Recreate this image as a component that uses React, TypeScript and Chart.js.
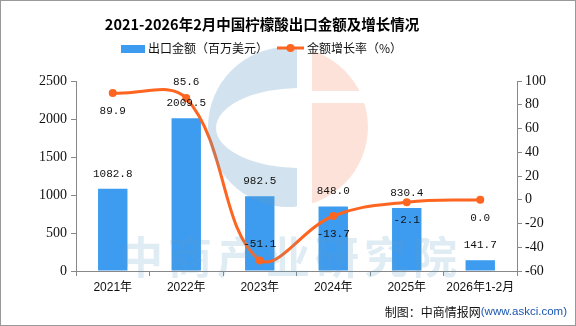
import React, { useEffect, useRef } from "react";
import { Chart, registerables } from "chart.js";

Chart.register(...registerables);

const categories = ["2021年", "2022年", "2023年", "2024年", "2025年", "2026年1-2月"];
const exportValues = [1082.8, 2009.5, 982.5, 848.0, 830.4, 141.7];
const growthRates = [89.9, 85.6, -51.1, -13.7, -2.1, 0.0];
const barLabelText = ["1082.8", "2009.5", "982.5", "848.0", "830.4", "141.7"];
const lineLabelText = ["89.9", "85.6", "-51.1", "-13.7", "-2.1", "0.0"];
const lineLabelAbove = [false, true, true, false, false, false];

const titleText = "2021-2026年2月中国柠檬酸出口金额及增长情况";
const barLegend = "出口金额（百万美元）";
const lineLegend = "金额增长率（%）";
const watermarkText = "中商产业研究院";

const BAR_COLOR = "#3d9cf0";
const LINE_COLOR = "#fe6520";
const CJK = "'Noto Sans CJK SC', sans-serif";
const MONO = "'Liberation Mono', monospace";

const decorPlugin = {
  id: "decor",
  beforeDraw(chart: any) {
    const ctx = chart.ctx;
    ctx.save();
    ctx.fillStyle = "#ffffff";
    ctx.fillRect(0, 0, chart.width, chart.height);
    ctx.restore();
  },
  afterDatasetsDraw(chart: any) {
    const ctx = chart.ctx;
    // logo watermark
    ctx.save();
    ctx.globalAlpha = 0.29;
    ctx.fillStyle = "rgb(100,160,200)";
    ctx.beginPath();
    ctx.rect(200, 40, 97, 175);
    ctx.clip();
    ctx.beginPath();
    ctx.arc(288, 127, 80, 0, Math.PI * 2);
    ctx.ellipse(300, 128, 84, 40, 0, 0, Math.PI * 2, true);
    ctx.fill("evenodd");
    ctx.restore();

    ctx.save();
    ctx.globalAlpha = 0.22;
    ctx.fillStyle = "rgb(245,125,80)";
    ctx.beginPath();
    ctx.rect(312, 40, 80, 51);
    ctx.rect(312, 103, 80, 120);
    ctx.clip();
    ctx.beginPath();
    ctx.arc(288, 127, 80, 0, Math.PI * 2);
    ctx.fill();
    ctx.restore();

    // text watermark
    ctx.save();
    ctx.globalAlpha = 0.2;
    ctx.fillStyle = "rgb(100,160,200)";
    ctx.font = `bold 44px ${CJK}`;
    ctx.textAlign = "left";
    ctx.textBaseline = "middle";
    const chars = Array.from(watermarkText);
    chars.forEach((c, i) => ctx.fillText(c, 119 + i * 49, 257));
    ctx.restore();

    // data labels
    ctx.save();
    ctx.fillStyle = "#111";
    ctx.font = `11px ${MONO}`;
    ctx.textAlign = "center";
    ctx.textBaseline = "middle";
    const barMeta = chart.getDatasetMeta(0);
    barMeta.data.forEach((el: any, i: number) => {
      ctx.fillText(barLabelText[i], el.x, el.y - 15);
    });
    const lineMeta = chart.getDatasetMeta(1);
    lineMeta.data.forEach((el: any, i: number) => {
      const dy = lineLabelAbove[i] ? -16 : 18;
      ctx.fillText(lineLabelText[i], el.x, el.y + dy);
    });
    ctx.restore();
  },
  afterDraw(chart: any) {
    const ctx = chart.ctx;
    ctx.save();
    // title
    ctx.fillStyle = "#000";
    ctx.font = `bold 14.5px ${CJK}`;
    ctx.textAlign = "center";
    ctx.textBaseline = "middle";
    ctx.fillText(titleText, 262, 24);

    // legend
    ctx.font = `12px ${CJK}`;
    ctx.textAlign = "left";
    ctx.fillStyle = BAR_COLOR;
    ctx.fillRect(121, 45, 24, 8);
    ctx.fillStyle = "#111";
    ctx.fillText(barLegend, 148, 48);
    ctx.strokeStyle = LINE_COLOR;
    ctx.lineWidth = 3;
    ctx.beginPath();
    ctx.moveTo(277, 48);
    ctx.lineTo(304, 48);
    ctx.stroke();
    ctx.fillStyle = LINE_COLOR;
    ctx.beginPath();
    ctx.arc(290.5, 48, 4, 0, Math.PI * 2);
    ctx.fill();
    ctx.fillStyle = "#111";
    ctx.fillText(lineLegend, 307, 48);

    // footer
    ctx.textAlign = "right";
    ctx.font = `11.5px 'Liberation Sans', sans-serif`;
    ctx.fillStyle = "#1a56b0";
    const url = "(www.askci.com)";
    ctx.fillText(url, 567, 312);
    const w = ctx.measureText(url).width;
    ctx.font = `12px ${CJK}`;
    ctx.fillStyle = "#111";
    ctx.fillText("制图：中商情报网", 567 - w, 312);

    // frame
    ctx.strokeStyle = "#999";
    ctx.lineWidth = 1;
    ctx.strokeRect(0.5, 0.5, chart.width - 1, chart.height - 1);
    ctx.restore();
  },
};

export default function App() {
  const ref = useRef<HTMLCanvasElement | null>(null);
  useEffect(() => {
    if (!ref.current) return;
    const axisColor = "#888";
    const chart = new Chart(ref.current, {
      type: "bar",
      data: {
        labels: categories,
        datasets: [
          {
            type: "bar",
            label: barLegend,
            data: exportValues,
            backgroundColor: BAR_COLOR,
            categoryPercentage: 1,
            barPercentage: 0.4,
            yAxisID: "y",
            order: 2,
          },
          {
            type: "line",
            label: lineLegend,
            data: growthRates,
            borderColor: LINE_COLOR,
            backgroundColor: LINE_COLOR,
            borderWidth: 3,
            pointRadius: 4,
            pointBackgroundColor: LINE_COLOR,
            pointBorderWidth: 0,
            tension: 0.4,
            yAxisID: "y1",
            order: 1,
          },
        ] as any,
      },
      options: {
        responsive: false,
        animation: false,
        events: [],
        layout: { padding: { top: 81, left: 0, right: 0, bottom: 0 } },
        plugins: {
          legend: { display: false },
          title: { display: false },
          tooltip: { enabled: false },
        },
        scales: {
          x: {
            offset: true,
            grid: {
              display: true,
              offset: true,
              drawOnChartArea: false,
              drawTicks: true,
              tickLength: 5,
              color: axisColor,
            },
            border: { display: true, color: axisColor, width: 1 },
            ticks: {
              color: "#111",
              font: { family: "'Liberation Sans', 'Noto Sans CJK SC', sans-serif", size: 12 },
              padding: 4,
              maxRotation: 0,
              autoSkip: false,
            },
            afterFit(scale: any) {
              scale.height = 55;
            },
          },
          y: {
            position: "left",
            min: 0,
            max: 2500,
            ticks: {
              stepSize: 500,
              color: "#111",
              font: { family: "'Liberation Serif', serif", size: 14 },
              padding: 4,
              callback: (v: any) => String(v),
            },
            grid: {
              display: true,
              drawOnChartArea: false,
              tickLength: 5,
              color: axisColor,
            },
            border: { display: true, color: axisColor, width: 1 },
            afterFit(scale: any) {
              scale.width = 76;
            },
          },
          y1: {
            position: "right",
            min: -60,
            max: 100,
            ticks: {
              stepSize: 20,
              color: "#111",
              font: { family: "'Liberation Serif', serif", size: 14 },
              padding: 3,
              callback: (v: any) => String(v),
            },
            grid: {
              display: true,
              drawOnChartArea: false,
              tickLength: 5,
              color: axisColor,
            },
            border: { display: true, color: axisColor, width: 1 },
            afterFit(scale: any) {
              scale.width = 59;
            },
          },
        },
      } as any,
      plugins: [decorPlugin],
    });
    return () => chart.destroy();
  }, []);

  return (
    <div style={{ position: "fixed", left: 0, top: 0, width: 576, height: 326, background: "#fff" }}>
      <canvas ref={ref} width={576} height={326} style={{ display: "block", width: 576, height: 326 }} />
    </div>
  );
}
